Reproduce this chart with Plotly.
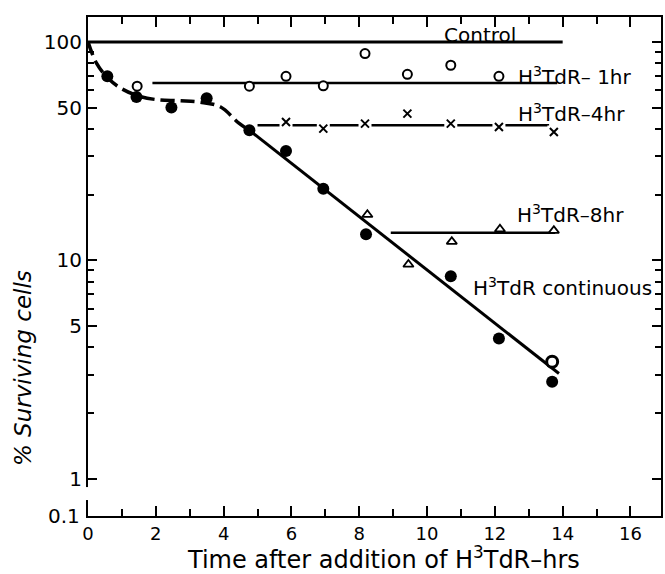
import math
import plotly.graph_objects as go

# ---- data ----
cont_x = [0.57, 1.43, 2.46, 3.5, 4.76, 5.84, 6.94, 8.2, 10.7, 12.12, 13.69]
cont_y = [69.6, 56.0, 50.1, 55.2, 39.4, 31.7, 21.3, 13.2, 8.48, 4.40, 2.79]
end_open_x = [13.69]
end_open_y = [3.44]
hr1_x = [1.45, 4.76, 5.84, 6.94, 8.17, 9.42, 10.70, 12.12]
hr1_y = [62.7, 62.7, 69.6, 63.0, 88.4, 71.1, 78.2, 69.6]
hr4_x = [5.84, 6.94, 8.17, 9.42, 10.70, 12.12, 13.74]
hr4_y = [43.0, 40.1, 42.3, 47.0, 42.3, 40.8, 38.7]
hr8_x = [8.24, 9.45, 10.73, 12.15, 13.74]
hr8_y = [16.2, 9.59, 12.2, 13.9, 13.7]

control_line_x = [0, 14.0]
control_line_y = [100, 100]
hr1_line_x = [1.9, 13.84]
hr1_line_y = [64.9, 64.9]
hr4_line_x = [5.0, 13.6]
hr4_line_y = [41.6, 41.6]
hr8_line_x = [8.93, 13.78]
hr8_line_y = [13.4, 13.4]
cont_fit_early_x = [0, 0.25, 0.6, 1.0, 1.5, 2.0, 2.7, 3.3, 3.9, 4.45, 4.76]
cont_fit_early_y = [100, 80, 68, 61, 56.5, 54.5, 53.8, 53, 50.5, 42.5, 39.4]
cont_fit_late_x = [4.76, 13.89]
cont_fit_late_y = [39.4, 3.04]

x_tickvals = [0, 2, 4, 6, 8, 10, 12, 14, 16]
y_tickvals = [1, 5, 10, 50, 100]
y_ticktext = ["1", "5", "10", "50", "100"]
y_minor = [2, 3, 4, 6, 7, 8, 9, 20, 30, 40, 60, 70, 80, 90]

labels = [
    ("Control", 11.56, 108, "center"),
    ("H<sup>3</sup>TdR– 1hr", 12.62, 70.0, "left"),
    ("H<sup>3</sup>TdR–4hr", 12.62, 47.3, "left"),
    ("H<sup>3</sup>TdR–8hr", 12.6, 16.3, "left"),
    ("H<sup>3</sup>TdR continuous", 11.29, 7.59, "left"),
]

FONT = "DejaVu Sans"
K = "black"

fig = go.Figure()

line_style = dict(color=K, width=2.5)
fig.add_trace(go.Scatter(x=control_line_x, y=control_line_y, mode="lines",
                         line=dict(color=K, width=3), showlegend=False))
fig.add_trace(go.Scatter(x=hr1_line_x, y=hr1_line_y, mode="lines",
                         line=line_style, showlegend=False))
fig.add_trace(go.Scatter(x=hr4_line_x, y=hr4_line_y, mode="lines",
                         line=line_style, showlegend=False))
fig.add_trace(go.Scatter(x=hr8_line_x, y=hr8_line_y, mode="lines",
                         line=line_style, showlegend=False))
fig.add_trace(go.Scatter(x=cont_fit_early_x, y=cont_fit_early_y, mode="lines",
                         line=dict(color=K, width=3.5, shape="spline", dash="14px,6px"),
                         showlegend=False))
fig.add_trace(go.Scatter(x=cont_fit_late_x, y=cont_fit_late_y, mode="lines",
                         line=dict(color=K, width=3), showlegend=False))

# markers
fig.add_trace(go.Scatter(x=hr1_x, y=hr1_y, mode="markers",
                         marker=dict(symbol="circle", size=9, color="white",
                                     line=dict(color=K, width=2)), showlegend=False))
fig.add_trace(go.Scatter(x=hr4_x, y=hr4_y, mode="markers",
                         marker=dict(symbol="square", size=13, color="white",
                                     line=dict(width=0)), showlegend=False))
fig.add_trace(go.Scatter(x=hr4_x, y=hr4_y, mode="markers",
                         marker=dict(symbol="x-thin", size=8, color=K,
                                     line=dict(color=K, width=2)), showlegend=False))
fig.add_trace(go.Scatter(x=hr8_x, y=hr8_y, mode="markers",
                         marker=dict(symbol="triangle-up", size=9, color="white",
                                     line=dict(color=K, width=1.8)), showlegend=False))
fig.add_trace(go.Scatter(x=cont_x, y=cont_y, mode="markers",
                         marker=dict(symbol="circle", size=12, color=K,
                                     line=dict(width=0)), showlegend=False))
fig.add_trace(go.Scatter(x=end_open_x, y=end_open_y, mode="markers",
                         marker=dict(symbol="circle", size=11, color="white",
                                     line=dict(color=K, width=3)), showlegend=False))

annotations = []
for text, x, y, anchor in labels:
    annotations.append(dict(x=x, y=math.log10(y), xref="x", yref="y", text=text,
                            showarrow=False, xanchor=anchor, yanchor="middle",
                            font=dict(family=FONT, size=20, color=K)))
# axis titles
annotations.append(dict(x=0.5165, y=-0.084, xref="paper", yref="paper",
                        text="Time after addition of H<sup>3</sup>TdR–hrs",
                        showarrow=False, xanchor="center", yanchor="middle",
                        font=dict(family=FONT, size=24, color=K)))
annotations.append(dict(x=-0.113, y=0.297, xref="paper", yref="paper",
                        text="<i>% Surviving cells</i>", textangle=-90,
                        showarrow=False, xanchor="center", yanchor="middle",
                        font=dict(family=FONT, size=23, color=K)))
annotations.append(dict(x=-0.01, y=0.0, xref="paper", yref="paper", text="0.1",
                        showarrow=False, xanchor="right", yanchor="middle",
                        font=dict(family=FONT, size=20, color=K)))

fig.update_layout(
    width=665, height=574,
    margin=dict(l=88, r=2, t=17, b=58),
    paper_bgcolor="white", plot_bgcolor="white",
    annotations=annotations,
    shapes=[dict(type="rect", xref="paper", yref="paper", x0=-0.01, x1=0.006,
                 y0=0.032, y1=0.058, fillcolor="white", line=dict(width=0),
                 layer="above")],
    xaxis=dict(range=[0, 16.9], tickmode="array", tickvals=x_tickvals,
               showgrid=False, zeroline=False, showline=True, linecolor=K,
               linewidth=2, mirror="allticks", ticks="inside", ticklen=10,
               tickwidth=2, tickcolor=K,
               tickfont=dict(family=FONT, size=18, color=K),
               minor=dict(dtick=1, ticks="inside", ticklen=7, tickwidth=2,
                          tickcolor=K, showgrid=False)),
    yaxis=dict(type="log", range=[-0.169, 2.114], tickmode="array",
               tickvals=y_tickvals, ticktext=y_ticktext,
               showgrid=False, zeroline=False, showline=True, linecolor=K,
               linewidth=2, mirror="allticks", ticks="inside", ticklen=9,
               tickwidth=2, tickcolor=K,
               tickfont=dict(family=FONT, size=20, color=K),
               minor=dict(tickmode="array", tickvals=y_minor, ticks="inside",
                          ticklen=6, tickwidth=2, tickcolor=K, showgrid=False)),
)

fig.write_html("out.html")
